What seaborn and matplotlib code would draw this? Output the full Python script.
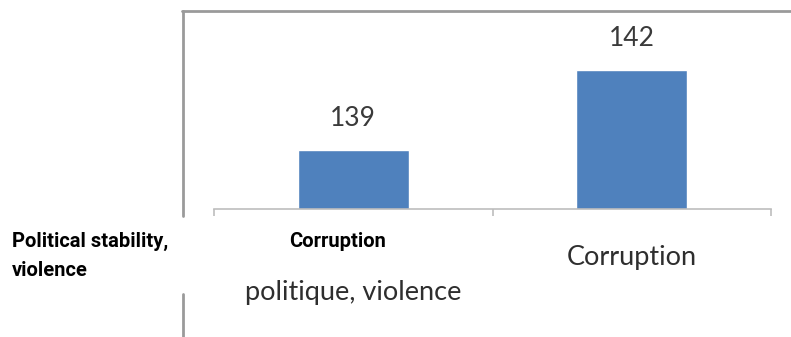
import matplotlib
matplotlib.use("Agg")
import matplotlib.pyplot as plt
import matplotlib.transforms as mtransforms
import seaborn as sns
import pandas as pd
from matplotlib.lines import Line2D

# data
categories = ["politique, violence", "Corruption"]
values = [139, 142]
left_labels = ["Political stability,", "violence", "Corruption"]

sns.set_theme(style="white")
plt.rcParams['font.family'] = ['Lato', 'DejaVu Sans']

W, H = 791, 337
fig = plt.figure(figsize=(W / 100, H / 100), dpi=100)

# axes placed in pixel terms of the reference
x0, x1 = 214, 771
ytop, ybase = 11, 209
ax = fig.add_axes([x0 / W, (H - ybase) / H, (x1 - x0) / W, (ybase - ytop) / H])

df = pd.DataFrame({"cat": categories, "val": values})
sns.barplot(data=df, x="cat", y="val", color="#4F81BD", saturation=1,
            width=0.4, ax=ax)

ax.set_xlim(-0.5, 1.5)
ax.set_ylim(136.79, 144.21)
ax.set_xlabel("")
ax.set_ylabel("")
ax.set_yticks([])
ax.set_xticks([-0.5, 0.5, 1.5])
ax.set_xticklabels([])
ax.tick_params(axis="x", bottom=True, length=5, width=1.2, color="#BDBDBD")
for s in ["top", "right", "left"]:
    ax.spines[s].set_visible(False)
ax.spines["bottom"].set_color("#BDBDBD")
ax.spines["bottom"].set_linewidth(1.2)

for cont in ax.containers:
    ax.bar_label(cont, padding=14, fontsize=19, color="#3A3A3A")

# category labels under the axis (baselines in reference pixels)
trans = mtransforms.blended_transform_factory(ax.transData, fig.transFigure)
ax.text(0, (H - 300) / H, categories[0], transform=trans,
        ha="center", va="baseline", fontsize=19.5, color="#2E2E2E")
ax.text(1, (H - 265) / H, categories[1], transform=trans,
        ha="center", va="baseline", fontsize=19.5, color="#2E2E2E")

# chart frame (top and broken left border)
frame = dict(color="#9A9A9A", lw=2)
fig.add_artist(Line2D([182 / W, 1], [(H - 11) / H] * 2, **frame))
fig.add_artist(Line2D([183 / W] * 2, [(H - 11) / H, (H - 216) / H], **frame))
fig.add_artist(Line2D([183 / W] * 2, [(H - 294) / H, 0], **frame))

# overlay bold labels
bold = ['Roboto', 'DejaVu Sans']
fig.text(12 / W, (H - 247) / H, left_labels[0], ha="left", va="baseline",
         fontsize=14.5, fontweight="bold", family=bold, color="black")
fig.text(12 / W, (H - 276) / H, left_labels[1], ha="left", va="baseline",
         fontsize=14.5, fontweight="bold", family=bold, color="black")
fig.text(338 / W, (H - 247) / H, left_labels[2], ha="center", va="baseline",
         fontsize=14.5, fontweight="bold", family=bold, color="black")

fig.savefig("out.png", dpi=100)
